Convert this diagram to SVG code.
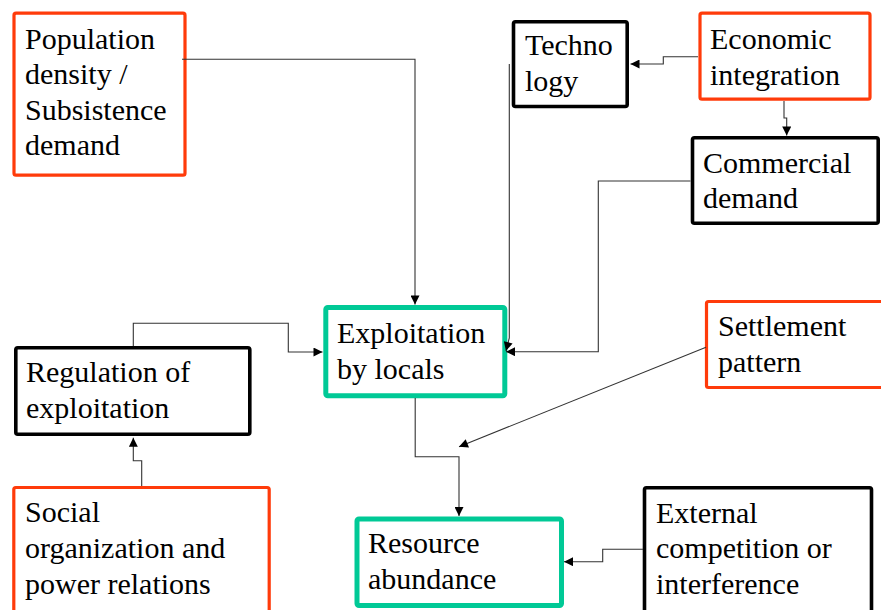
<svg xmlns="http://www.w3.org/2000/svg" width="881" height="610" viewBox="0 0 881 610">
<defs>
<style>
.red{fill:#fff;stroke:#ff3b0a;stroke-width:3.2}
.blk{fill:#fff;stroke:#000;stroke-width:3.6}
.teal{fill:#fff;stroke:#00c996;stroke-width:5}
.con path{fill:none;stroke:#333;stroke-width:1.1;marker-end:url(#ah)}
</style>
<marker id="ah" viewBox="0 0 10 10" refX="10" refY="5" markerWidth="10" markerHeight="9" markerUnits="userSpaceOnUse" orient="auto">
<path d="M0,0 L10,5 L0,10 z" fill="#000"/>
</marker>
</defs>
<rect width="881" height="610" fill="#fff"/>
<g font-family="Liberation Serif, Times New Roman, DejaVu Serif, serif" font-size="30" fill="#000">
<g id="population">
<rect class="red" x="14" y="13.2" width="171" height="162" rx="2"/>
<text x="25" y="48.5">Population</text>
<text x="25" y="84">density /</text>
<text x="25" y="119.5">Subsistence</text>
<text x="25" y="155">demand</text>
</g>

<g id="technology">
<rect class="blk" x="513.5" y="21.8" width="113.7" height="84.7" rx="2"/>
<text x="525" y="55">Techno</text>
<text x="525" y="91">logy</text>
</g>

<g id="economic">
<rect class="red" x="700" y="13.2" width="170" height="86" rx="2"/>
<text x="710" y="49">Economic</text>
<text x="710" y="85">integration</text>
</g>

<g id="commercial">
<rect class="blk" x="692.5" y="137.8" width="185.7" height="85.4" rx="2"/>
<text x="703" y="173">Commercial</text>
<text x="703" y="208">demand</text>
</g>

<g id="exploitation">
<rect class="teal" x="325.8" y="307.5" width="179" height="88.3" rx="2"/>
<text x="337" y="343">Exploitation</text>
<text x="337" y="379">by locals</text>
</g>

<g id="regulation">
<rect class="blk" x="15.8" y="347.8" width="234" height="86.5" rx="2"/>
<text x="26" y="382">Regulation of</text>
<text x="26" y="418">exploitation</text>
</g>

<g id="settlement">
<rect class="red" x="706.5" y="301.5" width="190" height="86" rx="2"/>
<text x="718" y="336">Settlement</text>
<text x="718" y="372">pattern</text>
</g>

<g id="resource">
<rect class="teal" x="357" y="519" width="204.5" height="86.5" rx="2"/>
<text x="368" y="553">Resource</text>
<text x="368" y="589">abundance</text>
</g>

<g id="external">
<rect class="blk" x="644.5" y="487.8" width="227" height="140" rx="2"/>
<text x="656" y="522.5">External</text>
<text x="656" y="558">competition or</text>
<text x="656" y="593.5">interference</text>
</g>

<g id="social">
<rect class="red" x="13.8" y="487.5" width="255.4" height="140" rx="2"/>
<text x="25" y="522">Social</text>
<text x="25" y="558">organization and</text>
<text x="25" y="594">power relations</text>
</g>
</g>

<g id="connectors" class="con">
<path d="M182,59.3 H415 V304.5"/>
<path d="M698,56.7 H663.3 V64 H630.5"/>
<path d="M784,101 V118 H786.7 V135.5"/>
<path d="M690.5,181 H598.3 V351.7 H506"/>
<path d="M509.3,64 V338 L506,351"/>
<path d="M133.3,346 V323.3 H288.3 V352 H322.5"/>
<path d="M141.7,486 V460.7 H133.3 V437.8"/>
<path d="M706,347.3 L459,446.7"/>
<path d="M415.2,398 V456.7 H459 V516"/>
<path d="M643,549.3 H602.7 V561.7 H564"/>
</g>
</svg>
